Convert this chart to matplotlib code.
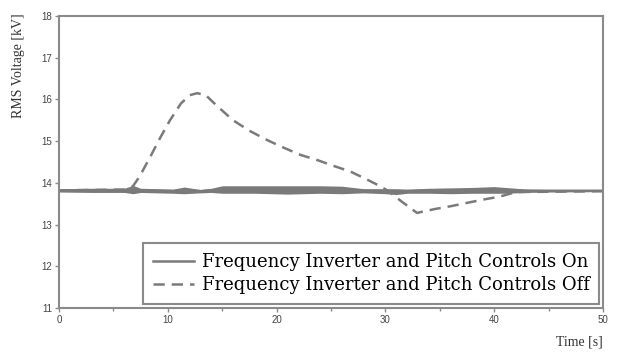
import matplotlib
matplotlib.use("Agg")
import matplotlib.pyplot as plt
from matplotlib.ticker import MultipleLocator

# "Off" case (dashed)
t_off = [0, 6.0, 6.8, 7.4, 8.4, 9.3, 10.2, 11.2, 12.0, 12.7, 13.5, 14.5, 16.0, 17.5, 19.1, 20.5, 22.2, 23.7, 25.2, 26.8, 28.3, 29.3, 30.3, 31.5, 32.9, 34.5, 36.0, 37.5, 39.0, 40.5, 42.0, 50]
v_off = [13.82, 13.84, 13.92, 14.15, 14.63, 15.08, 15.50, 15.90, 16.10, 16.15, 16.10, 15.85, 15.50, 15.25, 15.03, 14.86, 14.67, 14.55, 14.41, 14.27, 14.08, 13.95, 13.80, 13.55, 13.28, 13.37, 13.44, 13.52, 13.60, 13.67, 13.78, 13.80]

# "On" case (solid): mean level and noise-band half width
t_on = [0, 3, 6, 6.8, 7.5, 9, 10.5, 11.5, 13, 14, 15, 18, 21, 24, 26, 27, 28, 30, 31, 32, 34, 36, 38, 40, 41, 43, 45, 50]
v_on = [13.82, 13.82, 13.82, 13.84, 13.82, 13.81, 13.80, 13.82, 13.80, 13.82, 13.84, 13.84, 13.83, 13.84, 13.83, 13.82, 13.81, 13.80, 13.79, 13.80, 13.81, 13.81, 13.82, 13.83, 13.82, 13.81, 13.81, 13.81]
h_on = [0.04, 0.05, 0.05, 0.10, 0.05, 0.05, 0.05, 0.08, 0.04, 0.05, 0.09, 0.09, 0.10, 0.09, 0.09, 0.07, 0.05, 0.06, 0.07, 0.05, 0.06, 0.07, 0.07, 0.08, 0.07, 0.04, 0.03, 0.02]

label_on = "Frequency Inverter and Pitch Controls On"
label_off = "Frequency Inverter and Pitch Controls Off"
x_ticks = [0, 10, 20, 30, 40, 50]
y_ticks = [11, 12, 13, 14, 15, 16, 17, 18]

gray = "#7a7a7a"
fig = plt.figure(figsize=(6.18, 3.52), dpi=100)
ax = fig.add_axes([59/618, 1-308/352, (603-59)/618, (308-16)/352])

lo = [v - h for v, h in zip(v_on, h_on)]
hi = [v + h for v, h in zip(v_on, h_on)]
ax.fill_between(t_on, lo, hi, color=gray, lw=0)
ax.plot(t_on, v_on, color=gray, lw=1.8, label=label_on)
ax.plot(t_off, v_off, color=gray, lw=1.8, ls=(0, (4.5, 2.8)), label=label_off)

ax.set_xlim(0, 50)
ax.set_ylim(11, 18)
ax.set_xticks(x_ticks)
ax.set_yticks(y_ticks)
ax.xaxis.set_minor_locator(MultipleLocator(5))
for s in ax.spines.values():
    s.set_color("#8a8a8a")
    s.set_linewidth(1.5)
ax.tick_params(which="both", direction="out", length=3, width=1, color="#8a8a8a",
               labelsize=7, labelcolor="#444444", pad=2)
ax.tick_params(which="minor", length=2)
for lab in ax.get_xticklabels() + ax.get_yticklabels():
    lab.set_family("Liberation Sans")

ax.set_ylabel("RMS Voltage [kV]", family="Liberation Serif", fontsize=10, color="#333333")
ax.yaxis.set_label_coords(-0.062, 0.83)
ax.set_xlabel("Time [s]", family="Liberation Serif", fontsize=10, color="#333333")
ax.xaxis.set_label_coords(1.0, -0.095)
ax.xaxis.label.set_horizontalalignment("right")

leg = ax.legend(loc="lower right", prop={"family": "DejaVu Serif", "size": 13},
                frameon=True, fancybox=False, edgecolor="#8a8a8a", framealpha=1,
                handlelength=2.3, handletextpad=0.4, borderpad=0.55, labelspacing=0.3,
                borderaxespad=0.2)
leg.get_frame().set_linewidth(1.5)

fig.savefig("out.png", dpi=100)
